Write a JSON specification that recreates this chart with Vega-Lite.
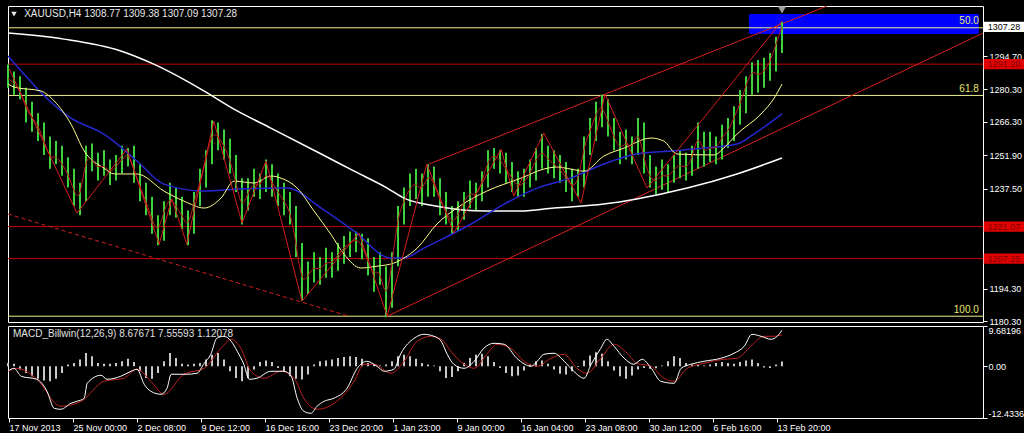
{
"$schema": "https://vega.github.io/schema/vega-lite/v6.json",
"background": "#000000",
"padding": {"left": 4, "top": 5, "right": 0, "bottom": 0},
"spacing": 4,
"bounds": "flush",
"config": {
  "view": {"stroke": "#ffffff", "strokeWidth": 1},
  "axis": {"labelFont": "Liberation Sans", "labelFontSize": 9, "labelColor": "#ffffff", "tickColor": "#ffffff", "domain": false, "grid": false, "title": null, "labelOverlap": false},
  "text": {"font": "Liberation Sans", "fontSize": 10}
},
"datasets": {
  "bars": [
    {"t":0,"h":1291,"l":1281,"c":1285,"d":0.8},{"t":1,"h":1288,"l":1278,"c":1283,"d":0.6},{"t":2,"h":1286,"l":1276,"c":1280,"d":-0.8},{"t":3,"h":1281,"l":1266,"c":1272,"d":-1.6},{"t":4,"h":1275,"l":1262,"c":1268,"d":-2.4},
    {"t":5,"h":1270,"l":1258,"c":1265,"d":-3.0},{"t":6,"h":1266,"l":1252,"c":1258,"d":-3.4},{"t":7,"h":1260,"l":1246,"c":1250,"d":-3.6},{"t":8,"h":1258,"l":1248,"c":1252,"d":-3.0},{"t":9,"h":1256,"l":1243,"c":1248,"d":-1.6},
    {"t":10,"h":1251,"l":1238,"c":1244,"d":0.4},{"t":11,"h":1246,"l":1230,"c":1236,"d":0.8},{"t":12,"h":1240,"l":1226,"c":1232,"d":1.6},{"t":13,"h":1256,"l":1232,"c":1252,"d":3.2},{"t":14,"h":1257,"l":1245,"c":1250,"d":2.4},
    {"t":15,"h":1253,"l":1241,"c":1246,"d":0.8},{"t":16,"h":1254,"l":1243,"c":1248,"d":0.6},{"t":17,"h":1250,"l":1239,"c":1244,"d":0.6},{"t":18,"h":1252,"l":1241,"c":1247,"d":0.8},{"t":19,"h":1256,"l":1244,"c":1250,"d":1.2},
    {"t":20,"h":1255,"l":1247,"c":1253,"d":1.8},{"t":21,"h":1256,"l":1240,"c":1246,"d":1.0},{"t":22,"h":1248,"l":1232,"c":1238,"d":-1.2},{"t":23,"h":1240,"l":1226,"c":1232,"d":-2.8},{"t":24,"h":1234,"l":1218,"c":1224,"d":-3.0},
    {"t":25,"h":1226,"l":1213,"c":1218,"d":-1.6},{"t":26,"h":1232,"l":1215,"c":1228,"d":1.2},{"t":27,"h":1240,"l":1226,"c":1234,"d":3.2},{"t":28,"h":1238,"l":1225,"c":1230,"d":2.0},{"t":29,"h":1234,"l":1220,"c":1226,"d":0.6},
    {"t":30,"h":1228,"l":1213,"c":1220,"d":0.4},{"t":31,"h":1236,"l":1218,"c":1232,"d":0.6},{"t":32,"h":1246,"l":1230,"c":1240,"d":0.8},{"t":33,"h":1254,"l":1238,"c":1250,"d":1.6},{"t":34,"h":1267,"l":1248,"c":1262,"d":2.8},
    {"t":35,"h":1266,"l":1254,"c":1260,"d":3.2},{"t":36,"h":1263,"l":1250,"c":1256,"d":1.6},{"t":37,"h":1259,"l":1244,"c":1250,"d":-1.2},{"t":38,"h":1252,"l":1236,"c":1240,"d":-2.8},{"t":39,"h":1242,"l":1222,"c":1228,"d":-3.6},
    {"t":40,"h":1242,"l":1228,"c":1236,"d":-2.8},{"t":41,"h":1246,"l":1234,"c":1240,"d":-0.8},{"t":42,"h":1244,"l":1233,"c":1238,"d":1.0},{"t":43,"h":1250,"l":1236,"c":1245,"d":1.4},{"t":44,"h":1248,"l":1234,"c":1240,"d":1.0},
    {"t":45,"h":1244,"l":1230,"c":1236,"d":-0.4},{"t":46,"h":1240,"l":1226,"c":1232,"d":-1.4},{"t":47,"h":1236,"l":1222,"c":1228,"d":-2.4},{"t":48,"h":1230,"l":1208,"c":1214,"d":-3.0},{"t":49,"h":1214,"l":1189,"c":1196,"d":-3.2},
    {"t":50,"h":1206,"l":1192,"c":1200,"d":-2.0},{"t":51,"h":1210,"l":1197,"c":1204,"d":0.4},{"t":52,"h":1208,"l":1196,"c":1202,"d":1.2},{"t":53,"h":1212,"l":1199,"c":1206,"d":1.4},{"t":54,"h":1210,"l":1199,"c":1205,"d":1.6},
    {"t":55,"h":1214,"l":1202,"c":1209,"d":2.0},{"t":56,"h":1217,"l":1205,"c":1212,"d":2.2},{"t":57,"h":1219,"l":1208,"c":1214,"d":2.4},{"t":58,"h":1219,"l":1210,"c":1216,"d":2.2},{"t":59,"h":1218,"l":1207,"c":1213,"d":1.8},
    {"t":60,"h":1216,"l":1200,"c":1206,"d":0.8},{"t":61,"h":1208,"l":1193,"c":1200,"d":0.4},{"t":62,"h":1210,"l":1196,"c":1203,"d":0.2},{"t":63,"h":1204,"l":1182,"c":1188,"d":0.4},{"t":64,"h":1210,"l":1186,"c":1205,"d":1.2},
    {"t":65,"h":1230,"l":1204,"c":1226,"d":2.4},{"t":66,"h":1238,"l":1222,"c":1232,"d":2.8},{"t":67,"h":1244,"l":1230,"c":1238,"d":2.4},{"t":68,"h":1246,"l":1233,"c":1240,"d":1.8},{"t":69,"h":1244,"l":1230,"c":1236,"d":0.8},
    {"t":70,"h":1248,"l":1234,"c":1244,"d":0.4},{"t":71,"h":1247,"l":1234,"c":1240,"d":0.2},{"t":72,"h":1242,"l":1226,"c":1232,"d":-1.2},{"t":73,"h":1236,"l":1222,"c":1228,"d":-2.8},{"t":74,"h":1230,"l":1218,"c":1222,"d":-2.6},
    {"t":75,"h":1232,"l":1219,"c":1226,"d":-1.2},{"t":76,"h":1236,"l":1224,"c":1232,"d":0.8},{"t":77,"h":1241,"l":1229,"c":1236,"d":2.0},{"t":78,"h":1240,"l":1228,"c":1234,"d":2.8},{"t":79,"h":1245,"l":1232,"c":1240,"d":3.0},
    {"t":80,"h":1254,"l":1238,"c":1250,"d":2.4},{"t":81,"h":1255,"l":1246,"c":1252,"d":1.0},{"t":82,"h":1254,"l":1244,"c":1250,"d":-0.4},{"t":83,"h":1253,"l":1240,"c":1246,"d":-1.6},{"t":84,"h":1249,"l":1236,"c":1242,"d":-2.4},
    {"t":85,"h":1245,"l":1234,"c":1238,"d":-2.2},{"t":86,"h":1246,"l":1234,"c":1240,"d":-1.0},{"t":87,"h":1250,"l":1238,"c":1244,"d":0.4},{"t":88,"h":1255,"l":1241,"c":1250,"d":1.2},{"t":89,"h":1261,"l":1246,"c":1254,"d":1.4},
    {"t":90,"h":1256,"l":1244,"c":1250,"d":0.6},{"t":91,"h":1254,"l":1242,"c":1248,"d":-0.8},{"t":92,"h":1252,"l":1240,"c":1246,"d":-1.8},{"t":93,"h":1249,"l":1236,"c":1242,"d":-2.0},{"t":94,"h":1246,"l":1232,"c":1238,"d":-1.2},
    {"t":95,"h":1246,"l":1234,"c":1240,"d":-0.2},{"t":96,"h":1260,"l":1238,"c":1256,"d":1.4},{"t":97,"h":1268,"l":1252,"c":1262,"d":2.6},{"t":98,"h":1275,"l":1258,"c":1270,"d":3.4},{"t":99,"h":1278,"l":1264,"c":1274,"d":3.0},
    {"t":100,"h":1276,"l":1260,"c":1266,"d":1.2},{"t":101,"h":1268,"l":1254,"c":1260,"d":-1.0},{"t":102,"h":1262,"l":1248,"c":1254,"d":-2.4},{"t":103,"h":1263,"l":1250,"c":1258,"d":-3.0},{"t":104,"h":1260,"l":1248,"c":1254,"d":-2.2},
    {"t":105,"h":1268,"l":1252,"c":1264,"d":-0.8},{"t":106,"h":1266,"l":1244,"c":1250,"d":-0.4},{"t":107,"h":1252,"l":1238,"c":1242,"d":-0.6},{"t":108,"h":1247,"l":1235,"c":1240,"d":-0.5},{"t":109,"h":1250,"l":1237,"c":1244,"d":0.2},
    {"t":110,"h":1248,"l":1236,"c":1242,"d":1.2},{"t":111,"h":1252,"l":1240,"c":1246,"d":2.4},{"t":112,"h":1254,"l":1242,"c":1248,"d":2.0},{"t":113,"h":1253,"l":1241,"c":1246,"d":0.8},{"t":114,"h":1256,"l":1243,"c":1250,"d":0.4},
    {"t":115,"h":1266,"l":1246,"c":1262,"d":0.3},{"t":116,"h":1262,"l":1247,"c":1252,"d":0.2},{"t":117,"h":1262,"l":1249,"c":1256,"d":0.4},{"t":118,"h":1260,"l":1248,"c":1254,"d":0.8},{"t":119,"h":1265,"l":1250,"c":1260,"d":1.0},
    {"t":120,"h":1268,"l":1255,"c":1262,"d":0.8},{"t":121,"h":1273,"l":1258,"c":1268,"d":0.6},{"t":122,"h":1280,"l":1265,"c":1274,"d":1.0},{"t":123,"h":1286,"l":1270,"c":1282,"d":1.4},{"t":124,"h":1292,"l":1278,"c":1289,"d":1.6},
    {"t":125,"h":1293,"l":1279,"c":1286,"d":0.8},{"t":126,"h":1294,"l":1281,"c":1288,"d":-0.3},{"t":127,"h":1296,"l":1284,"c":1292,"d":-0.4},{"t":128,"h":1303,"l":1288,"c":1300,"d":0.4},{"t":129,"h":1309.38,"l":1296,"c":1307.28,"d":1.12}
  ],
  "yellowMA": [
    {"t":0,"p":1282.6},{"t":1,"p":1281.3},{"t":5.5,"p":1279.6},{"t":7.7,"p":1275.3},{"t":10.5,"p":1265.3},{"t":12.7,"p":1253.7},{"t":16,"p":1246.3},{"t":17.7,"p":1243.8},{"t":21.5,"p":1243.8},{"t":26,"p":1236.4},{"t":29.3,"p":1232.1},{"t":32.7,"p":1229.1},{"t":35.5,"p":1233.4},{"t":37.7,"p":1240.7},{"t":41,"p":1239.9},{"t":43.8,"p":1242.9},{"t":45.5,"p":1242.0},{"t":48.2,"p":1237.7},{"t":51,"p":1227.8},{"t":53.8,"p":1217.8},{"t":56,"p":1209.2},{"t":58.8,"p":1203.2},{"t":61.5,"p":1204.0},{"t":64.3,"p":1205.3},{"t":66,"p":1207.5},{"t":68.2,"p":1211.8},{"t":71.5,"p":1222.2},{"t":74.8,"p":1229.1},{"t":79.8,"p":1236.4},{"t":85.5,"p":1242.0},{"t":89.3,"p":1245.9},{"t":91.5,"p":1246.8},{"t":93.8,"p":1245.9},{"t":96,"p":1245.0},{"t":99.3,"p":1251.5},{"t":102.7,"p":1255.0},{"t":107.2,"p":1259.3},{"t":109.3,"p":1258.0},{"t":111.5,"p":1252.4},{"t":117.7,"p":1252.0},{"t":119.3,"p":1255.0},{"t":121.5,"p":1261.0},{"t":125.5,"p":1269.7},{"t":127.7,"p":1276.6},{"t":129,"p":1282.6}
  ],
  "blueMA": [
    {"t":0,"p":1294.7},{"t":10.5,"p":1267.9},{"t":16,"p":1261.0},{"t":21.5,"p":1249.4},{"t":26,"p":1239.4},{"t":32.7,"p":1236.4},{"t":38.2,"p":1237.3},{"t":46.5,"p":1237.7},{"t":52.2,"p":1229.1},{"t":57.7,"p":1219.1},{"t":63.8,"p":1207.5},{"t":66,"p":1207.5},{"t":69.3,"p":1211.8},{"t":77.2,"p":1222.2},{"t":82.7,"p":1230.8},{"t":88.2,"p":1237.7},{"t":93.8,"p":1242.0},{"t":99.3,"p":1248.1},{"t":104.8,"p":1252.4},{"t":110.5,"p":1253.7},{"t":116,"p":1255.0},{"t":121.5,"p":1256.7},{"t":124.3,"p":1261.0},{"t":129,"p":1269.7}
  ],
  "whiteMA": [
    {"t":0,"p":1304.6},{"t":9.3,"p":1302.0},{"t":18.8,"p":1296.9},{"t":24.3,"p":1291.2},{"t":29.8,"p":1283.9},{"t":32.7,"p":1279.6},{"t":38.2,"p":1271.0},{"t":43.8,"p":1263.6},{"t":52.2,"p":1252.4},{"t":57.7,"p":1245.0},{"t":63.2,"p":1237.7},{"t":66,"p":1233.4},{"t":71.5,"p":1229.9},{"t":79.8,"p":1227.8},{"t":85.5,"p":1227.8},{"t":91,"p":1229.1},{"t":99.3,"p":1230.8},{"t":104.8,"p":1233.0},{"t":113.2,"p":1237.7},{"t":121.5,"p":1243.8},{"t":129,"p":1250.7}
  ],
  "zigzag": [
    {"t":0.2,"p":1289.1},{"t":11.5,"p":1226.9},{"t":19.8,"p":1254.5},{"t":25.2,"p":1213.5},{"t":27.3,"p":1233.0},{"t":29.8,"p":1213.5},{"t":34.3,"p":1266.6},{"t":39,"p":1222.6},{"t":43,"p":1249.4},{"t":49,"p":1188.9},{"t":58.5,"p":1218.3},{"t":63.2,"p":1182.4},{"t":69.8,"p":1248.1},{"t":74.3,"p":1218.3},{"t":82.2,"p":1254.5},{"t":84.3,"p":1234.3},{"t":89.3,"p":1261.5},{"t":95.5,"p":1231.2},{"t":99.5,"p":1278.3},{"t":106.5,"p":1237.7},{"t":129,"p":1309.8}
  ],
  "channels": [
    {"g":"up","t":70.2,"p":1248.1},{"g":"up","t":136.5,"p":1316.3},
    {"g":"low","t":63.2,"p":1182.4},{"g":"low","t":162.5,"p":1304.6}
  ],
  "dashed": [{"t":0,"p":1226.5},{"t":56.8,"p":1182.4}],
  "redlines": [{"p":1291.2},{"p":1221.07},{"p":1207.25}],
  "fibs": [{"p":1306.9,"lab":"50.0","lp":1309.8},{"p":1277.7,"lab":"61.8","lp":1280.5},{"p":1182.4,"lab":"100.0","lp":1185.1}],
  "zone": [{"t":123.5,"t2":161.8,"p":1304.2,"p2":1312.8}],
  "pricebox": [{"p":1307.28,"lab":"1307.28","k":"cur"},{"p":1291.2,"lab":"1291.20","k":"line"},{"p":1221.07,"lab":"1221.07","k":"line"},{"p":1207.25,"lab":"1207.25","k":"line"}],
  "macd": [
    {"t":0,"v":-1.2},{"t":1,"v":-0.48},{"t":2.2,"v":-2.4},{"t":4.8,"v":-3.13},{"t":6.5,"v":-6.01},{"t":7.7,"v":-10.1},{"t":8.8,"v":-10.34},{"t":10.5,"v":-8.89},{"t":11.5,"v":-8.41},{"t":12.7,"v":-7.69},{"t":13.2,"v":-4.09},{"t":15.5,"v":-2.16},{"t":16.5,"v":-3.13},{"t":18.8,"v":-2.4},{"t":20.5,"v":-1.2},{"t":21.5,"v":-0.72},{"t":22.7,"v":-4.33},{"t":23.8,"v":-6.01},{"t":25.5,"v":-6.73},{"t":26.5,"v":-5.29},{"t":27.2,"v":-1.92},{"t":29.7,"v":-1.92},{"t":31.5,"v":-1.68},{"t":32.7,"v":0.72},{"t":33.8,"v":2.88},{"t":34.8,"v":6.73},{"t":36,"v":7.21},{"t":37.2,"v":6.01},{"t":38.2,"v":3.61},{"t":39.3,"v":0.48},{"t":40.2,"v":-3.13},{"t":41.5,"v":-2.88},{"t":43.8,"v":-1.2},{"t":46,"v":-1.2},{"t":47.2,"v":-2.4},{"t":48.2,"v":-7.69},{"t":49.3,"v":-10.82},{"t":50.5,"v":-11.3},{"t":51.5,"v":-9.62},{"t":52.7,"v":-8.41},{"t":54.3,"v":-7.69},{"t":56.5,"v":-5.29},{"t":58.2,"v":-0.48},{"t":59.8,"v":1.2},{"t":61.5,"v":0},{"t":62.7,"v":-1.2},{"t":64.3,"v":-0.72},{"t":65.5,"v":3.13},{"t":67.7,"v":6.73},{"t":69.3,"v":7.69},{"t":71,"v":7.21},{"t":72.2,"v":6.01},{"t":73.2,"v":2.88},{"t":74.3,"v":0.48},{"t":76,"v":-0.48},{"t":77.7,"v":1.2},{"t":79.3,"v":4.33},{"t":81,"v":5.53},{"t":82.7,"v":5.29},{"t":84.8,"v":1.92},{"t":87.2,"v":0},{"t":88.2,"v":1.2},{"t":89.3,"v":2.88},{"t":91,"v":3.13},{"t":92.7,"v":1.2},{"t":94.3,"v":-1.2},{"t":96,"v":-2.88},{"t":97.2,"v":0.48},{"t":98.8,"v":4.33},{"t":99.8,"v":6.49},{"t":101,"v":4.81},{"t":102.7,"v":1.92},{"t":104.3,"v":0.48},{"t":105.7,"v":1.68},{"t":107.2,"v":-0.48},{"t":108.8,"v":-3.61},{"t":111,"v":-4.09},{"t":112.2,"v":-0.48},{"t":113.8,"v":0.48},{"t":116,"v":1.2},{"t":118.8,"v":1.92},{"t":121,"v":3.13},{"t":122.7,"v":4.81},{"t":124,"v":7.69},{"t":125.5,"v":7.21},{"t":127.2,"v":6.49},{"t":128.2,"v":7.21},{"t":129,"v":8.68}
  ],
  "signal": [
    {"t":0,"v":-1.2},{"t":1.5,"v":-0.48},{"t":4.8,"v":-3.13},{"t":8.8,"v":-9.62},{"t":12.2,"v":-8.41},{"t":16,"v":-3.61},{"t":19.3,"v":-2.88},{"t":21.5,"v":-0.72},{"t":23.8,"v":-3.61},{"t":26,"v":-6.73},{"t":29.3,"v":-1.92},{"t":32.7,"v":-0.48},{"t":35.5,"v":4.33},{"t":37.2,"v":6.49},{"t":38.8,"v":4.33},{"t":40.5,"v":-1.2},{"t":42.7,"v":-2.88},{"t":45.5,"v":-1.2},{"t":47.7,"v":-2.88},{"t":49.3,"v":-7.69},{"t":51.5,"v":-10.34},{"t":54.8,"v":-8.41},{"t":57.7,"v":-3.61},{"t":59.3,"v":0.48},{"t":61,"v":0.48},{"t":63.8,"v":-1.68},{"t":66,"v":1.2},{"t":68.2,"v":6.01},{"t":70.5,"v":7.21},{"t":72.2,"v":6.49},{"t":73.8,"v":3.61},{"t":76,"v":0.48},{"t":77.7,"v":-0.48},{"t":79.8,"v":2.88},{"t":81.5,"v":5.29},{"t":83.8,"v":4.33},{"t":86,"v":1.2},{"t":88.2,"v":0},{"t":90.5,"v":1.92},{"t":92.7,"v":2.88},{"t":94.8,"v":-0.48},{"t":96.5,"v":-1.68},{"t":98.8,"v":1.92},{"t":101,"v":5.29},{"t":103.2,"v":3.13},{"t":104.8,"v":0.72},{"t":107.2,"v":0},{"t":109.3,"v":-2.88},{"t":111,"v":-3.61},{"t":113.2,"v":-0.48},{"t":116,"v":0.72},{"t":119.3,"v":1.68},{"t":121.5,"v":1.92},{"t":123.8,"v":4.81},{"t":126,"v":7.21},{"t":127.7,"v":7.21},{"t":129,"v":7.56}
  ]
},
"vconcat": [
  {
    "width": 975, "height": 316,
    "layer": [
      {"data": {"name": "zone"}, "mark": {"type": "rect", "color": "#0000ff"},
       "encoding": {
         "x": {"field": "t", "type": "quantitative", "scale": {"domain": [0, 162.5], "nice": false, "zero": false}, "axis": null},
         "x2": {"field": "t2"},
         "y": {"field": "p", "type": "quantitative", "scale": {"domain": [1179.9, 1316.3], "nice": false, "zero": false},
               "axis": {"orient": "right", "values": [1308.1, 1294.7, 1280.3, 1266.3, 1251.9, 1237.5, 1194.3, 1180.3], "format": ".2f", "tickSize": 4, "labelPadding": 2, "labelOverlap": false, "labelBound": false, "zindex": 0}},
         "y2": {"field": "p2"}}},
      {"data": {"name": "redlines"}, "mark": {"type": "rule", "color": "#c80000", "strokeWidth": 1},
       "encoding": {"x": {"datum": 0, "type": "quantitative", "axis": null}, "x2": {"datum": 162.5},
                    "y": {"field": "p", "type": "quantitative"}}},
      {"data": {"name": "fibs"}, "mark": {"type": "rule", "color": "#eeee90", "strokeWidth": 1},
       "encoding": {"x": {"datum": 0, "type": "quantitative", "axis": null}, "x2": {"datum": 162.5},
                    "y": {"field": "p", "type": "quantitative"}}},
      {"data": {"name": "dashed"}, "mark": {"type": "line", "color": "#d02020", "strokeWidth": 1, "strokeDash": [4, 3]},
       "encoding": {"x": {"field": "t", "type": "quantitative", "axis": null}, "y": {"field": "p", "type": "quantitative"}}},
      {"data": {"name": "channels"}, "mark": {"type": "line", "color": "#d82020", "strokeWidth": 1, "clip": true},
       "encoding": {"x": {"field": "t", "type": "quantitative", "axis": null}, "y": {"field": "p", "type": "quantitative"}, "detail": {"field": "g"}}},
      {"data": {"name": "bars"}, "mark": {"type": "rule", "color": "#3ed23e", "strokeWidth": 2},
       "encoding": {"x": {"field": "t", "type": "quantitative", "axis": null}, "y": {"field": "l", "type": "quantitative"}, "y2": {"field": "h"}}},
      {"data": {"name": "whiteMA"}, "mark": {"type": "line", "color": "#ffffff", "strokeWidth": 1.5, "interpolate": "monotone"},
       "encoding": {"x": {"field": "t", "type": "quantitative", "axis": null}, "y": {"field": "p", "type": "quantitative"}}},
      {"data": {"name": "blueMA"}, "mark": {"type": "line", "color": "#2626d2", "strokeWidth": 1.5, "interpolate": "monotone"},
       "encoding": {"x": {"field": "t", "type": "quantitative", "axis": null}, "y": {"field": "p", "type": "quantitative"}}},
      {"data": {"name": "yellowMA"}, "mark": {"type": "line", "color": "#ffff8c", "strokeWidth": 1, "interpolate": "monotone"},
       "encoding": {"x": {"field": "t", "type": "quantitative", "axis": null}, "y": {"field": "p", "type": "quantitative"}}},
      {"data": {"name": "bars"}, "mark": {"type": "line", "color": "#b81c1c", "strokeWidth": 1, "interpolate": "basis"},
       "encoding": {"x": {"field": "t", "type": "quantitative", "axis": null}, "y": {"field": "c", "type": "quantitative"}}},
      {"data": {"name": "zigzag"}, "mark": {"type": "line", "color": "#d41c1c", "strokeWidth": 1},
       "encoding": {"x": {"field": "t", "type": "quantitative", "axis": null}, "y": {"field": "p", "type": "quantitative"}}},
      {"data": {"name": "fibs"}, "mark": {"type": "text", "color": "#e6e670", "align": "right", "baseline": "middle"},
       "encoding": {"x": {"datum": 161.8, "type": "quantitative", "axis": null}, "y": {"field": "lp", "type": "quantitative"}, "text": {"field": "lab"}}},
      {"data": {"values": [{"s": "XAUUSD,H4  1308.77 1309.38 1307.09 1307.28"}]}, "mark": {"type": "text", "color": "#e8e8e8", "align": "left", "baseline": "middle"},
       "encoding": {"x": {"datum": 2.7, "type": "quantitative", "axis": null}, "y": {"datum": 1312.8, "type": "quantitative"}, "text": {"field": "s"}}},
      {"data": {"values": [{"s": "a"}]}, "mark": {"type": "point", "shape": "triangle-down", "filled": true, "color": "#e8e8e8", "size": 30, "opacity": 1},
       "encoding": {"x": {"datum": 1, "type": "quantitative", "axis": null}, "y": {"datum": 1312.8, "type": "quantitative"}}},
      {"data": {"values": [{"s": "b"}]}, "mark": {"type": "point", "shape": "triangle-down", "filled": true, "color": "#a0a0a0", "size": 70, "opacity": 1},
       "encoding": {"x": {"datum": 129, "type": "quantitative", "axis": null}, "y": {"datum": 1314.6, "type": "quantitative"}}},
      {"data": {"name": "pricebox"}, "mark": {"type": "point", "shape": "M-1,-0.235L1,-0.235L1,0.235L-1,0.235Z", "filled": true, "size": 1849, "opacity": 1, "strokeWidth": 0, "zindex": 3},
       "encoding": {"x": {"datum": 166.2, "type": "quantitative", "axis": null}, "y": {"field": "p", "type": "quantitative"},
                    "fill": {"condition": {"test": "datum.k == 'cur'", "value": "#ffffff"}, "value": "#e00000"}}},
      {"data": {"name": "pricebox"}, "mark": {"type": "text", "align": "left", "baseline": "middle", "fontSize": 9, "zindex": 4},
       "encoding": {"x": {"datum": 163.3, "type": "quantitative", "axis": null}, "y": {"field": "p", "type": "quantitative"}, "text": {"field": "lab"},
                    "color": {"condition": {"test": "datum.k == 'cur'", "value": "#000000"}, "value": "#800000"}}}
    ]
  },
  {
    "width": 975, "height": 92,
    "layer": [
      {"data": {"name": "bars"}, "mark": {"type": "rule", "color": "#c8c8c8", "strokeWidth": 2},
       "encoding": {
         "x": {"field": "t", "type": "quantitative", "scale": {"domain": [0, 162.5], "nice": false, "zero": false},
               "axis": {"orient": "bottom", "values": [0.17, 10.83, 21.5, 32.17, 42.83, 53.5, 64.17, 74.83, 85.5, 96.17, 106.83, 117.5, 128.17],
                        "labelExpr": "['17 Nov 2013','25 Nov 00:00','2 Dec 08:00','9 Dec 12:00','16 Dec 16:00','23 Dec 20:00','1 Jan 23:00','9 Jan 00:00','16 Jan 04:00','23 Jan 08:00','30 Jan 12:00','6 Feb 16:00','13 Feb 20:00'][round((datum.value - 0.17) / 10.667)]",
                        "labelAlign": "left", "labelDx": 1, "tickSize": 4, "labelPadding": 1, "labelOverlap": false, "labelBound": false, "labelFlush": false}},
         "y": {"field": "d", "type": "quantitative", "scale": {"domain": [-12.4336, 9.68196], "nice": false, "zero": false},
               "axis": {"orient": "right", "values": [9.68196, 0, -12.4336], "labelExpr": "datum.value == 0 ? '0.00' : (datum.value > 0 ? '9.68196' : '-12.4336')", "tickSize": 4, "labelPadding": 1, "labelFlush": true, "labelOverlap": false}},
         "y2": {"datum": 0}}},
      {"data": {"name": "signal"}, "mark": {"type": "line", "color": "#c02020", "strokeWidth": 1, "interpolate": "monotone"},
       "encoding": {"x": {"field": "t", "type": "quantitative"}, "y": {"field": "v", "type": "quantitative"}}},
      {"data": {"name": "macd"}, "mark": {"type": "line", "color": "#ffffff", "strokeWidth": 1, "interpolate": "monotone"},
       "encoding": {"x": {"field": "t", "type": "quantitative"}, "y": {"field": "v", "type": "quantitative"}}},
      {"data": {"values": [{"s": "MACD_Billwin(12,26,9) 8.67671 7.55593 1.12078"}]}, "mark": {"type": "text", "color": "#e0e0e0", "align": "left", "baseline": "middle"},
       "encoding": {"x": {"datum": 0.83, "type": "quantitative"}, "y": {"datum": 7.76, "type": "quantitative"}, "text": {"field": "s"}}}
    ]
  }
]
}
